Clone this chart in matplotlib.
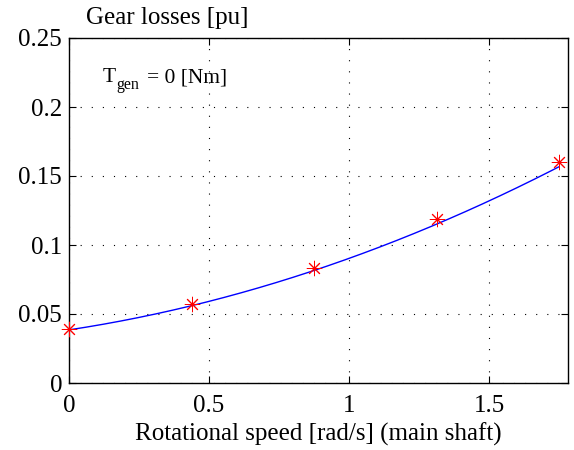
import matplotlib
matplotlib.use("Agg")
import matplotlib.pyplot as plt
import numpy as np

# measured gear losses vs main shaft speed, no generator torque
speed = np.array([0.0, 0.4375, 0.875, 1.3125, 1.75])
losses = np.array([0.039, 0.057, 0.0835, 0.1185, 0.1605])

# fitted loss model: c2*w^2 + c1*w + c0
fit_coef = [0.0210, 0.0308, 0.0385]

xticks = [0, 0.5, 1, 1.5]
xticklabels = ['0', '0.5', '1', '1.5']
yticks = [0, 0.05, 0.1, 0.15, 0.2, 0.25]
yticklabels = ['0', '0.05', '0.1', '0.15', '0.2', '0.25']

plt.rcParams['font.family'] = ['Liberation Serif', 'DejaVu Serif']

xs = np.linspace(speed[0], speed[-1], 200)

fig = plt.figure(figsize=(5.74, 4.5), dpi=100)
ax = fig.add_axes([69 / 574, 1 - 383 / 450, (568 - 69) / 574, (383 - 38) / 450])

ax.plot(xs, np.polyval(fit_coef, xs), color='blue', lw=1.0)
ax.plot(speed, losses, ls='none', marker=(8, 2, 0), ms=11, mew=0.7, color='red',
        clip_on=False, zorder=3)

ax.set_xlim(0, 1.782)
ax.set_ylim(0, 0.25)
ax.set_xticks(xticks)
ax.set_xticklabels(xticklabels)
ax.set_yticks(yticks)
ax.set_yticklabels(yticklabels)
ax.grid(True, color='black', ls=(0, (1, 9)), lw=0.8)
ax.tick_params(direction='in', top=True, right=True, length=5, labelsize=18)
ax.tick_params(axis='x', pad=9)
ax.tick_params(axis='y', pad=5)
for s in ax.spines.values():
    s.set_linewidth(1.0)

ax.set_xlabel('Rotational speed [rad/s] (main shaft)', fontsize=18, labelpad=4)
fig.text(86 / 574, 1 - 24 / 450, 'Gear losses [pu]', fontsize=18, ha='left', va='baseline')

# T_gen label, subscript set lower like the tex interpreter does
anchor = (0.068, 0.872)
ax.annotate('T', anchor, xycoords='axes fraction', fontsize=15.5, va='baseline')
ax.annotate('gen', anchor, xycoords='axes fraction', xytext=(13, -7),
            textcoords='offset pixels', fontsize=11.5, va='baseline')
ax.annotate('= 0 [Nm]', anchor, xycoords='axes fraction', xytext=(44, 0),
            textcoords='offset pixels', fontsize=15.5, va='baseline')

fig.savefig('out.png', dpi=100)
